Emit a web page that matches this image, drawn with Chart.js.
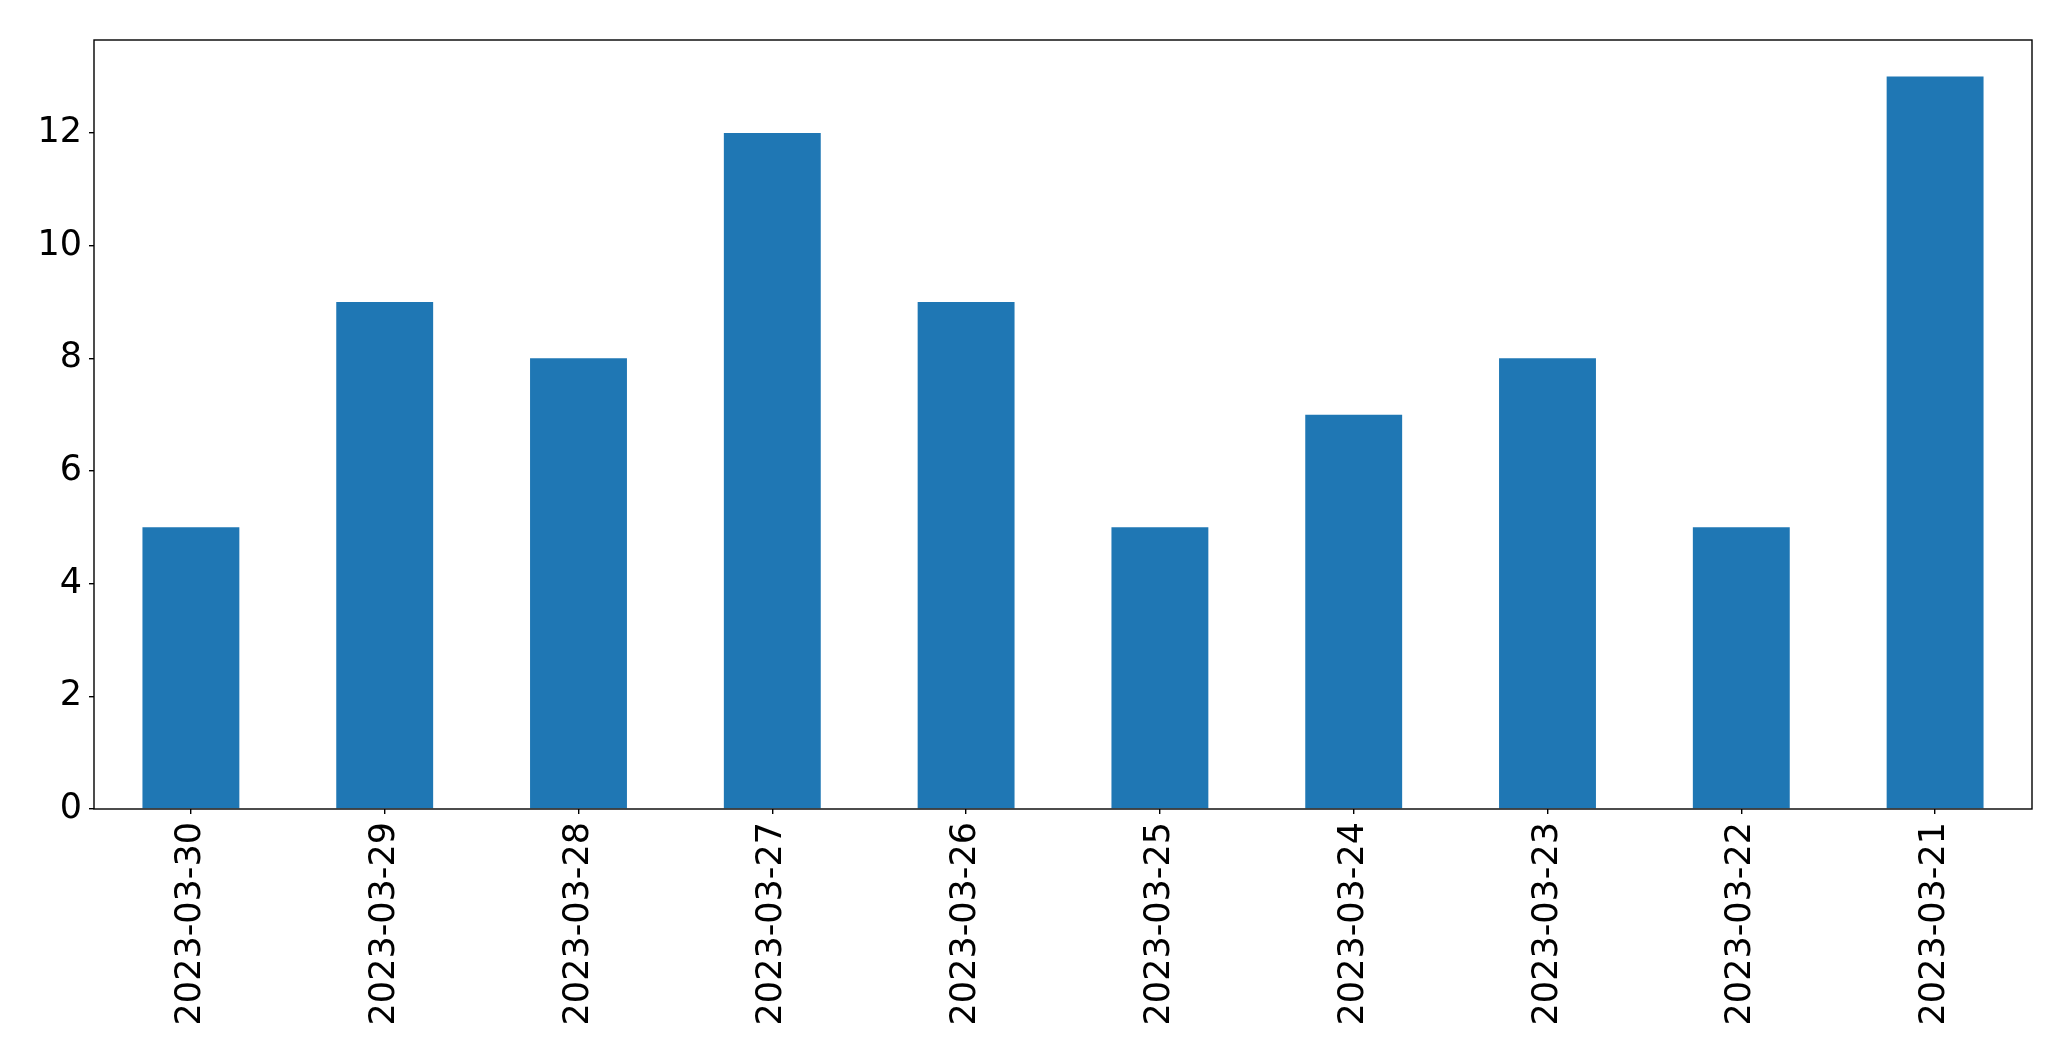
<!DOCTYPE html>
<html>
<head>
<meta charset="utf-8">
<script src="https://cdn.jsdelivr.net/npm/chart.js@4/dist/chart.umd.min.js"></script>
<style>
  html, body { margin: 0; padding: 0; background: #fff; }
  #wrap { width: 2071px; height: 1061px; }
</style>
</head>
<body>
<div id="wrap"><canvas id="chart" width="2071" height="1061"></canvas></div>
<script>
  /* ── Data ── */
  const dates  = ['2023-03-30', '2023-03-29', '2023-03-28', '2023-03-27', '2023-03-26',
                  '2023-03-25', '2023-03-24', '2023-03-23', '2023-03-22', '2023-03-21'];
  const counts = [5, 9, 8, 12, 9, 5, 7, 8, 5, 13];
  const yTicks = [0, 2, 4, 6, 8, 10, 12];

  const yMax = Math.max(...counts) * 1.05;

  /* ── Frame round the plot area ── */
  const frame = {
    id: 'frame',
    afterDatasetsDraw(chart) {
      const a = chart.chartArea, c = chart.ctx;
      c.save();
      c.strokeStyle = '#000';
      c.lineWidth = 1.4;
      c.strokeRect(a.left, a.top, a.right - a.left, a.bottom - a.top);
      c.restore();
    },
  };

  Chart.defaults.font.family = '"DejaVu Sans", sans-serif';
  Chart.defaults.color = '#000';

  new Chart(document.getElementById('chart'), {
    type: 'bar',
    data: {
      labels: dates,
      datasets: [{
        data: counts,
        backgroundColor: '#1f77b4',
        borderWidth: 0,
        barPercentage: 0.5,
        categoryPercentage: 1,
      }],
    },
    options: {
      responsive: false,
      animation: false,
      devicePixelRatio: 1,
      layout: { padding: { top: 40, right: 39, left: 0, bottom: 0 } },
      plugins: { legend: { display: false }, tooltip: { enabled: false } },
      scales: {
        x: {
          offset: true,
          grid: { offset: false, drawOnChartArea: false, tickLength: 5, color: '#000', lineWidth: 1.4 },
          border: { display: false },
          ticks: { font: { size: 35 }, maxRotation: 90, minRotation: 90, padding: 8, autoSkip: false },
          afterFit(s) { s.height = 252; },
        },
        y: {
          min: 0,
          max: yMax,
          grid: { drawOnChartArea: false, tickLength: 5, color: '#000', lineWidth: 1.4 },
          border: { display: false },
          ticks: { font: { size: 35 }, padding: 7 },
          afterBuildTicks(s) { s.ticks = yTicks.map(v => ({ value: v })); },
          afterFit(s) { s.width = 94; },
        },
      },
    },
    plugins: [frame],
  });
</script>
</body>
</html>
